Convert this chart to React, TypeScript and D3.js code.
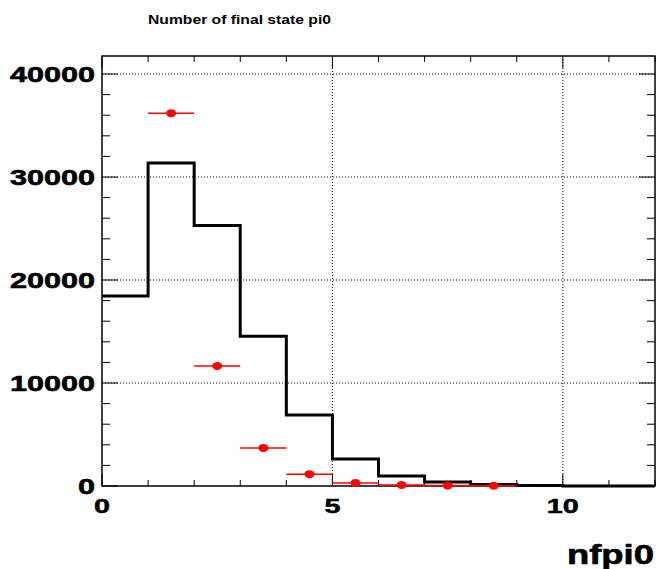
import React from 'react';
import * as d3 from 'd3';

// histogram bins (black) : nfpi0 = 0..11
const binEdges = [0, 1, 2, 3, 4, 5, 6, 7, 8, 9, 10, 11, 12];
const histCounts = [18450, 31350, 25300, 14550, 6900, 2620, 970, 390, 150, 50, 10, 0];

// red data points with horizontal error bars
const pointX = [1.5, 2.5, 3.5, 4.5, 5.5, 6.5, 7.5, 8.5];
const pointY = [36200, 11650, 3700, 1150, 300, 100, 50, 20];

const xTicks = [0, 5, 10];
const yTicks = [0, 10000, 20000, 30000, 40000];

const W = 660;
const H = 569;
const margin = { top: 56, right: 5, bottom: 83, left: 102 };
const FONT = '"Liberation Sans", Arial, Helvetica, sans-serif';

const App = () => {
  const x = d3.scaleLinear().domain([0, 12]).range([margin.left, W - margin.right]);
  const y = d3.scaleLinear().domain([0, 41750]).range([H - margin.bottom, margin.top]);

  const x0 = x(0), x1 = x(12), y0 = y(0), y1 = y(41750);

  // step path for the histogram
  let d = `M${x(binEdges[0])},${y(histCounts[0])}`;
  histCounts.forEach((c, i) => {
    d += `L${x(binEdges[i])},${y(c)}L${x(binEdges[i + 1])},${y(c)}`;
  });

  const xMinor = d3.range(0, 12.001, 1);
  const yMinor = d3.range(0, 41750, 2000);

  return (
    <svg width={W} height={H} style={{ position: 'absolute', left: 0, top: 0 }}>
      <rect width={W} height={H} fill="#fff" />

      {/* grid */}
      <g stroke="#000" strokeWidth={1} strokeDasharray="1,2">
        {xTicks.filter(t => t > 0).map(t => (
          <line key={'gx' + t} x1={x(t)} x2={x(t)} y1={y0} y2={y1} />
        ))}
        {yTicks.filter(t => t > 0).map(t => (
          <line key={'gy' + t} x1={x0} x2={x1} y1={y(t)} y2={y(t)} />
        ))}
      </g>

      {/* ticks on all four sides */}
      <g stroke="#000" strokeWidth={1}>
        {xMinor.map(t => {
          const len = t % 5 === 0 ? 12 : 6;
          return (
            <g key={'tx' + t}>
              <line x1={x(t)} x2={x(t)} y1={y0} y2={y0 - len} />
              <line x1={x(t)} x2={x(t)} y1={y1} y2={y1 + len} />
            </g>
          );
        })}
        {yMinor.map(t => {
          const len = t % 10000 === 0 ? 16 : 8;
          return (
            <g key={'ty' + t}>
              <line x1={x0} x2={x0 + len} y1={y(t)} y2={y(t)} />
              <line x1={x1} x2={x1 - len} y1={y(t)} y2={y(t)} />
            </g>
          );
        })}
      </g>

      {/* frame */}
      <rect x={x0} y={y1} width={x1 - x0} height={y0 - y1} fill="none" stroke="#000" strokeWidth={1.5} />

      {/* histogram */}
      <path d={d} fill="none" stroke="#000" strokeWidth={3} />

      {/* red points */}
      <g>
        {pointX.map((px, i) => (
          <g key={'p' + i}>
            <line x1={x(px - 0.5)} x2={x(px + 0.5)} y1={y(pointY[i])} y2={y(pointY[i])} stroke="#ff0000" strokeWidth={1.5} />
            <ellipse cx={x(px)} cy={y(pointY[i])} rx={5} ry={4} fill="#ff0000" />
          </g>
        ))}
      </g>

      {/* y labels */}
      <g fontFamily={FONT} fontWeight="bold" fontSize={22} textAnchor="end" stroke="#000" strokeWidth={0.6}>
        {yTicks.map(t => {
          const label = String(t);
          return (
            <text key={'ly' + t} x={95} y={y(t) + 8} textLength={label.length * 17} lengthAdjust="spacingAndGlyphs">
              {label}
            </text>
          );
        })}
      </g>

      {/* x labels */}
      <g fontFamily={FONT} fontWeight="bold" fontSize={20} textAnchor="middle" stroke="#000" strokeWidth={0.5}>
        {xTicks.map(t => {
          const label = String(t);
          return (
            <text key={'lx' + t} x={x(t)} y={513} textLength={label.length * 16} lengthAdjust="spacingAndGlyphs">
              {label}
            </text>
          );
        })}
      </g>

      {/* title */}
      <text x={148} y={24} fontFamily={FONT} fontWeight="bold" fontSize={13} textLength={183} lengthAdjust="spacingAndGlyphs">
        Number of final state pi0
      </text>

      {/* x axis title */}
      <text x={654} y={564} textAnchor="end" fontFamily={FONT} fontWeight="bold" fontSize={27} textLength={87} lengthAdjust="spacingAndGlyphs" stroke="#000" strokeWidth={0.6}>
        nfpi0
      </text>
    </svg>
  );
};

export default App;
